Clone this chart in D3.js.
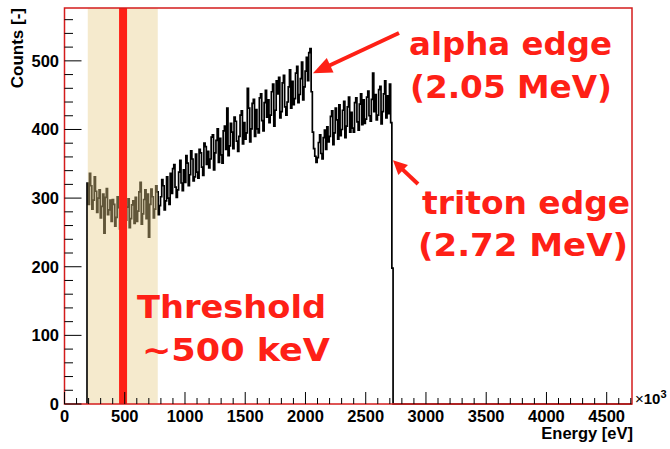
<!DOCTYPE html>
<html>
<head>
<meta charset="utf-8">
<script src="https://cdn.jsdelivr.net/npm/d3@7"></script>
<style>
  body { margin: 0; background: #fff; }
  text { font-family: "Liberation Sans", Arial, sans-serif; font-weight: bold; }
  .note { font-family: "DejaVu Sans", Verdana, sans-serif; font-weight: bold; fill: #fe2016; }
</style>
</head>
<body>
<script>
// spectrum: 10 keV bins from 187 keV
const binStart = 187;
const binWidth = 10;
const counts = [
  322, 291, 336, 318, 284, 297, 331, 310, 279, 300,
  312, 271, 288, 306, 249, 301, 314, 276, 283, 297,
  266, 298, 291, 259, 272, 302, 286, 255, 236, 279,
  293, 261, 268, 287, 299, 257, 270, 290, 296, 263,
  301, 266, 281, 309, 323, 262, 277, 298, 312, 270,
  306, 243, 291, 313, 302, 271, 284, 318, 309, 276,
  289, 302, 327, 318, 283, 296, 331, 300, 291, 336,
  307, 343, 349, 316, 301, 312, 338, 355, 322, 311,
  341, 323, 362, 351, 318, 334, 369, 357, 325, 331,
  364, 338, 329, 371, 366, 345, 333, 380, 375, 349,
  368, 344, 357, 389, 392, 341, 366, 384, 401, 352,
  387, 363, 351, 398, 405, 371, 431, 362, 376, 409,
  396, 372, 418, 412, 383, 368, 390, 421, 427, 379,
  410, 386, 395, 460, 431, 382, 401, 438, 444, 390,
  429, 401, 395, 446, 452, 413, 398, 439, 457, 418,
  443, 410, 421, 455, 466, 405, 428, 471, 452, 476,
  417, 426, 468, 479, 433, 421, 440, 462, 487, 431,
  470, 436, 445, 482, 492, 439, 451, 474, 498, 443,
  462, 485, 505, 471, 512, 518, 455, 396, 372, 361,
  352, 359, 381, 392, 365, 357, 388, 399, 371, 404,
  382, 390, 419, 427, 378, 395, 431, 414, 386, 436,
  391, 400, 428, 441, 388, 405, 433, 447, 396, 425,
  402, 396, 439, 446, 411, 399, 437, 452, 407, 443,
  409, 415, 447, 456, 420, 412, 444, 482, 426, 451,
  414, 421, 458, 463, 408, 426, 452, 471, 417, 449,
  423, 466, 410, 198
];
const xTickLabels = ["0", "500", "1000", "1500", "2000", "2500", "3000", "3500", "4000", "4500"];
const yTickLabels = ["0", "100", "200", "300", "400", "500"];
const band = [193, 774];      // shaded threshold region, keV
const threshold = 486;        // keV
const alphaTip = [2062, 482]; // keV, counts
const tritonTip = [2726, 355];

const width = 670, height = 449;
const svg = d3.select("body").append("svg")
  .attr("width", width)
  .attr("height", height);

const x = d3.scaleLinear().domain([0, 4710]).range([64.5, 632]);
const y = d3.scaleLinear().domain([0, 577]).range([404, 8]);

// histogram as a step line
const pts = [[binStart, 0]];
counts.forEach((c, i) => pts.push([binStart + i * binWidth, c]));
pts.push([binStart + counts.length * binWidth, 0]);
pts.push([4710, 0]);

svg.append("path")
  .datum(pts)
  .attr("fill", "none")
  .attr("stroke", "#000")
  .attr("stroke-width", 1.7)
  .attr("d", d3.line().x(d => x(d[0])).y(d => y(d[1])).curve(d3.curveStepAfter));

// shaded band over the histogram
svg.append("rect")
  .attr("x", x(band[0]))
  .attr("y", y(577))
  .attr("width", x(band[1]) - x(band[0]))
  .attr("height", y(0) - y(577))
  .attr("fill", "rgb(231,205,135)")
  .attr("fill-opacity", 0.42);

svg.append("line")
  .attr("x1", x(threshold)).attr("x2", x(threshold))
  .attr("y1", y(577)).attr("y2", y(0))
  .attr("stroke", "#fe2016")
  .attr("stroke-width", 8);

// frame
svg.append("rect")
  .attr("x", x(0)).attr("y", y(577))
  .attr("width", x(4710) - x(0)).attr("height", y(0) - y(577))
  .attr("fill", "none")
  .attr("stroke", "#d41c1c")
  .attr("stroke-width", 1.5);

// x ticks
const xMinor = d3.range(0, 4701, 100);
svg.append("g").selectAll("line")
  .data(xMinor)
  .join("line")
  .attr("x1", d => x(d)).attr("x2", d => x(d))
  .attr("y1", y(0))
  .attr("y2", d => d % 500 === 0 ? y(0) - 12 : y(0) - 6)
  .attr("stroke", "#000");

svg.append("g").selectAll("text")
  .data(xTickLabels)
  .join("text")
  .attr("x", d => x(+d))
  .attr("y", 422)
  .attr("text-anchor", "middle")
  .attr("font-size", 16.5)
  .text(d => d);

// y ticks
const yMinor = d3.range(0, 577, 20);
svg.append("g").selectAll("line")
  .data(yMinor)
  .join("line")
  .attr("x1", x(0))
  .attr("x2", d => d % 100 === 0 ? x(0) + 17 : x(0) + 8.5)
  .attr("y1", d => y(d)).attr("y2", d => y(d))
  .attr("stroke", "#000");

svg.append("g").selectAll("text")
  .data(yTickLabels)
  .join("text")
  .attr("x", 59)
  .attr("y", d => y(+d) + 6)
  .attr("text-anchor", "end")
  .attr("font-size", 16.5)
  .text(d => d);

// axis titles
svg.append("text")
  .attr("x", 633).attr("y", 439)
  .attr("text-anchor", "end")
  .attr("font-size", 16.5)
  .text("Energy [eV]");

svg.append("text")
  .attr("transform", "translate(23,8) rotate(-90)")
  .attr("text-anchor", "end")
  .attr("font-size", 17)
  .text("Counts [-]");

const exp = svg.append("text")
  .attr("x", 635).attr("y", 404)
  .attr("font-size", 15);
exp.append("tspan").style("font-weight", "normal").text("×");
exp.append("tspan").text("10");
exp.append("tspan").attr("dy", -6).attr("font-size", 11).text("3");

// annotations
function arrow(tail, tip, len, half) {
  const dx = tip[0] - tail[0], dy = tip[1] - tail[1];
  const l = Math.hypot(dx, dy), ux = dx / l, uy = dy / l;
  const bx = tip[0] - ux * len, by = tip[1] - uy * len;
  svg.append("line")
    .attr("x1", tail[0]).attr("y1", tail[1])
    .attr("x2", bx + ux * 2).attr("y2", by + uy * 2)
    .attr("stroke", "#fe2016").attr("stroke-width", 4);
  svg.append("polygon")
    .attr("points", [
      tip,
      [bx - uy * half, by + ux * half],
      [bx + uy * half, by - ux * half]
    ].map(p => p.join(",")).join(" "))
    .attr("fill", "#fe2016");
}
arrow([399, 33], [x(alphaTip[0]), y(alphaTip[1])], 19, 8);
arrow([418, 184], [x(tritonTip[0]), y(tritonTip[1])], 14, 7);

const notes = [
  ["alpha edge", 409, 55, 203],
  ["(2.05 MeV)", 410, 98, 202],
  ["triton edge", 422, 214, 208],
  ["(2.72 MeV)", 418, 256, 210],
  ["Threshold", 137, 318, 189],
  ["~500 keV", 142, 361, 188]
];
svg.append("g").selectAll("text")
  .data(notes)
  .join("text")
  .attr("class", "note")
  .attr("x", d => d[1]).attr("y", d => d[2])
  .attr("font-size", 32)
  .attr("textLength", d => d[3])
  .attr("lengthAdjust", "spacingAndGlyphs")
  .text(d => d[0]);
</script>
</body>
</html>
